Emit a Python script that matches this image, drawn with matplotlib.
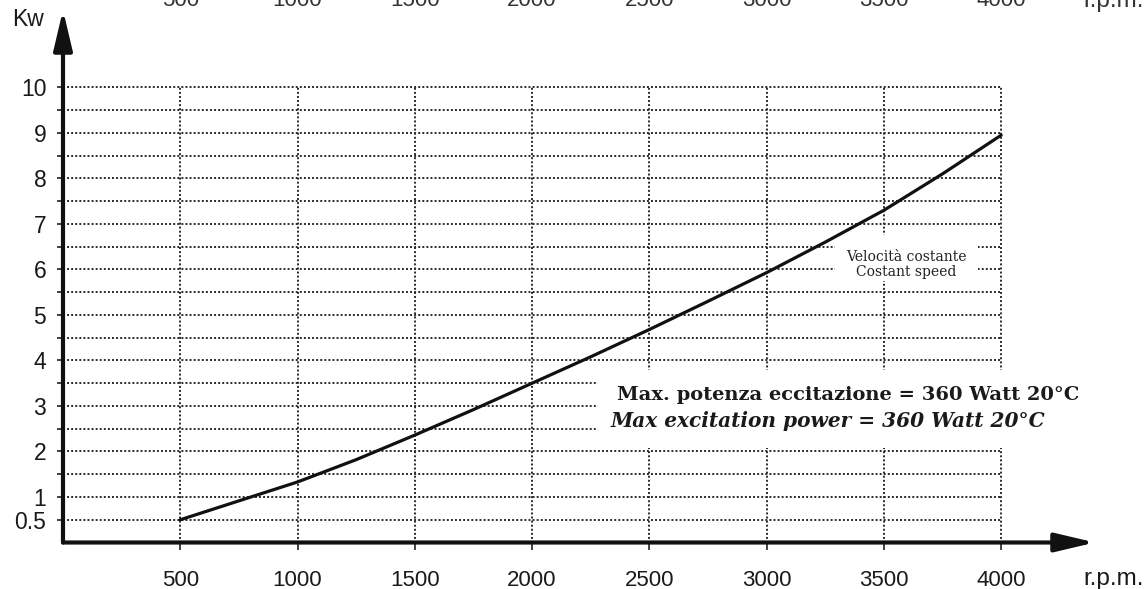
import matplotlib
matplotlib.use('Agg')
import matplotlib.pyplot as plt
from matplotlib.patches import ArrowStyle
import numpy as np

# ---- data ----
rpm = [500, 1000, 1250, 1500, 1750, 2000, 2250, 2500, 2750, 3000, 3250, 3500, 3750, 4000]
kw = [0.5, 1.33, 1.82, 2.36, 2.92, 3.5, 4.08, 4.68, 5.3, 5.93, 6.6, 7.3, 8.1, 8.95]

x_ticks = [500, 1000, 1500, 2000, 2500, 3000, 3500, 4000]
x_labels = ['500', '1000', '1500', '2000', '2500', '3000', '3500', '4000']
y_grid = [0.5, 1, 1.5, 2, 2.5, 3, 3.5, 4, 4.5, 5, 5.5, 6, 6.5, 7, 7.5, 8, 8.5, 9, 9.5, 10]
y_labeled = [0.5, 1, 2, 3, 4, 5, 6, 7, 8, 9, 10]
y_labels = ['0.5', '1', '2', '3', '4', '5', '6', '7', '8', '9', '10']

x_unit = 'r.p.m.'
y_unit = 'Kw'
note_small = ['Velocità costante', 'Costant speed']
note_big = ['Max. potenza eccitazione = 360 Watt 20°C', 'Max excitation power = 360 Watt 20°C']

W, H = 1146, 589
fig = plt.figure(figsize=(W / 100, H / 100), dpi=100)
fig.patch.set_facecolor('white')
ax = fig.add_axes([63 / W, 46.5 / H, 1032 / W, 532.5 / H])
ax.set_xlim(0, 4400)
ax.set_ylim(0, 11.7)
for s in ax.spines.values():
    s.set_visible(False)

sans = ['Liberation Sans', 'DejaVu Sans']
serif = ['DejaVu Serif']

# grid
grid_kw = dict(color='#2a2a2a', lw=1.4, linestyles=(0, (1.0, 1.1)), zorder=1)
ax.hlines(y_grid, 0, x_ticks[-1], **grid_kw)
ax.vlines(x_ticks, 0, y_grid[-1], **grid_kw)

# ticks
ax.set_xticks(x_ticks)
ax.set_xticklabels(x_labels, fontsize=16, family=sans, color='#1a1a1a')
ax.set_yticks(y_grid)
ax.set_yticklabels([y_labels[y_labeled.index(v)] if v in y_labeled else '' for v in y_grid],
                   fontsize=16.5, family=sans, color='#1a1a1a')
ax.tick_params(axis='x', direction='out', length=5, width=1.2, pad=15, color='#222')
ax.tick_params(axis='y', direction='out', length=4, width=1.2, pad=8, color='#222')

# axes arrows
style = ArrowStyle('-|>', head_length=1.1, head_width=0.26)
for end in [(1, 0), (0, 1)]:
    ax.annotate('', xy=end, xytext=(0, 0), xycoords='axes fraction',
                arrowprops=dict(arrowstyle=style, lw=3, color='#111', mutation_scale=22,
                                shrinkA=0, shrinkB=0), annotation_clip=False, zorder=5)

# curve
ax.plot(rpm, kw, color='#111', lw=2.3, zorder=4, solid_capstyle='round')

# unit labels
fig.text(12 / W, 1 - 20 / H, y_unit, fontsize=16.5, family=sans, color='#1a1a1a',
         ha='left', va='center')
fig.text(1144 / W, 1 - 579 / H, x_unit, fontsize=17.5, family=sans, color='#1a1a1a',
         ha='right', va='center')

# ghost labels at top edge (partially cut off)
trans = ax.get_xaxis_transform()
y_top = (H - 46.5 - 1) / 532.5
for xv, lab in zip(x_ticks, x_labels):
    ax.text(xv, y_top, lab, transform=trans, fontsize=16, family=sans, color='#333',
            ha='center', va='center', clip_on=False)
ax.text(4480, y_top, x_unit, transform=trans, fontsize=17.5, family=sans,
        color='#333', ha='center', va='center', clip_on=False)

# small note with white box
ax.add_patch(plt.Rectangle((3290, 5.75), 610, 1.0, fc='white', ec='none', zorder=2))
ax.text(3595, 6.1, note_small[0] + '\n' + note_small[1], fontsize=10, family=serif,
        color='#222', ha='center', va='center', linespacing=1.1, zorder=3)

# big note with white box
ax.add_patch(plt.Rectangle((2280, 2.08), 1950, 1.7, fc='white', ec='none', zorder=2))
ax.text(2360, 3.23, note_big[0], fontsize=14, family=serif, weight='bold',
        color='#1a1a1a', ha='left', va='center', zorder=3)
ax.text(2335, 2.67, note_big[1], fontsize=14.5, family=serif, weight='bold', style='italic',
        color='#1a1a1a', ha='left', va='center', zorder=3)

fig.savefig('out.png', dpi=100, facecolor='white')
